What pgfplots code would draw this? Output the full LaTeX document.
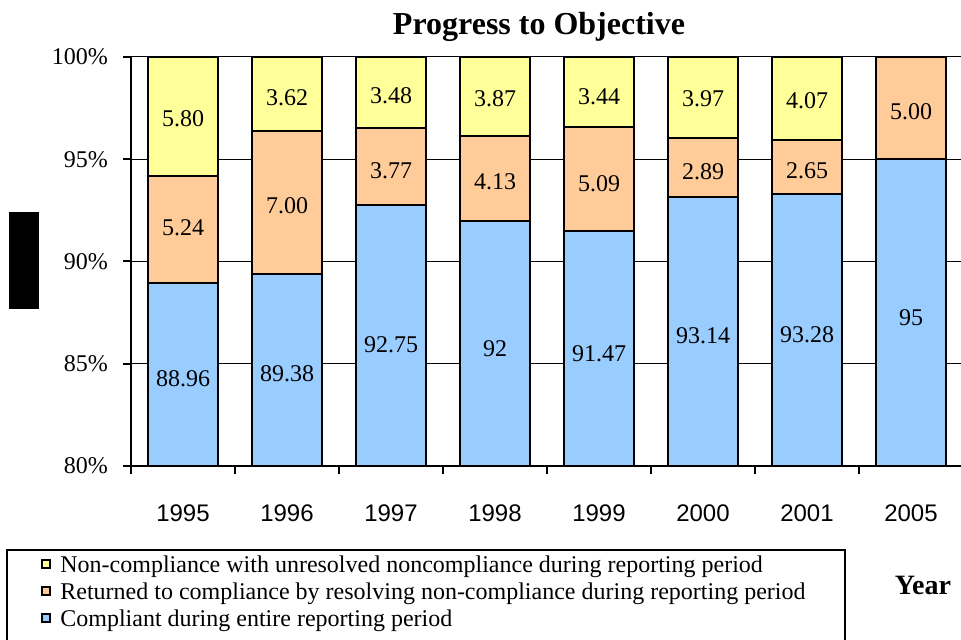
\documentclass[border=0pt]{standalone}
\usepackage{fontspec}
\setmainfont{Liberation Serif}
\newfontfamily\arialfont{Liberation Sans}
\usepackage{pgfplots}
\usepackage{pgfplotstable}
\pgfplotsset{compat=1.18}
\definecolor{cyel}{HTML}{FFFF99}
\definecolor{cora}{HTML}{FFCC99}
\definecolor{cblu}{HTML}{99CCFF}

\pgfplotstableread{
x blue orange yellow
0 88.96 5.24 5.80
1 89.38 7.00 3.62
2 92.75 3.77 3.48
3 92 4.13 3.87
4 91.47 5.09 3.44
5 93.14 2.89 3.97
6 93.28 2.65 4.07
}\data
\pgfplotstableread{
x blue orange
7 95 5.00
}\datab

\pgfplotstableread{
x y label
0 84.29 88.96
1 84.50 89.38
2 85.95 92.75
3 85.76 92
4 85.49 91.47
5 86.36 93.14
6 86.44 93.28
7 87.24 95
0 91.64 5.24
1 92.72 7.00
2 94.46 3.77
3 93.89 4.13
4 93.79 5.09
5 94.38 2.89
6 94.46 2.65
7 97.33 5.00
0 96.97 5.80
1 98.02 3.62
2 98.10 3.48
3 97.95 3.87
4 98.06 3.44
5 97.95 3.97
6 97.86 4.07
}\labels

\begin{document}
\begin{tikzpicture}[x=1pt,y=1pt]
\useasboundingbox (0,0) rectangle (480.5,320);
\begin{axis}[
  at={(65.5pt,87pt)}, anchor=south west,
  scale only axis, width=416pt, height=204.5pt,
  xmin=-0.5, xmax=7.5, ymin=80, ymax=100,
  ybar stacked, bar width=35pt,
  axis x line*=bottom, axis y line*=left,
  axis line style={line width=1pt, black},
  tick align=outside, major tick length=4pt,
  tick style={line width=1pt, black},
  ytick={80,85,90,95,100},
  yticklabels={80\%,85\%,90\%,95\%,100\%},
  yticklabel style={font=\fontsize{12}{14}\selectfont, xshift=-4pt},
  xtick={-0.5,0.5,...,7.5},
  x tick label as interval,
  xticklabels={1995,1996,1997,1998,1999,2000,2001,2005},
  xticklabel style={font=\arialfont\fontsize{12}{14}\selectfont, yshift=-12pt},
  ymajorgrids, grid style={line width=0.5pt, black},
  title={Progress to Objective},
  title style={font=\bfseries\fontsize{16}{19}\selectfont, at={(axis description cs:0.4904,1.026)}, anchor=base},
  xlabel={Year},
  xlabel style={font=\bfseries\fontsize{14}{17}\selectfont, at={(axis description cs:0.9519,-0.3154)}, anchor=base},
  ylabel={\rule{48.5pt}{15pt}},
  ylabel style={at={(axis description cs:-0.1286,0.5024)}, anchor=center, inner sep=0pt, rotate=0},
  every axis plot post/.append style={
    legend image code/.code={
      \draw[#1, draw=black, line width=1pt] (1pt,-0.6pt) rectangle (5pt,3.4pt);
      \path[draw=none, fill=none] (0pt,0pt) -- (10pt,0pt);
    }},
  reverse legend,
  legend style={draw=none, fill=none, at={(axis description cs:-0.1094,-0.21516)}, anchor=north west,
    font=\fontsize{12}{14}\selectfont, inner sep=0pt, row sep=1.5pt, column sep=0pt,
    nodes={inner sep=0pt, text height=9pt, text depth=3pt}},
  legend cell align=left,
]
\addplot[fill=cblu, draw=black, line width=1pt] table[x=x, y=blue] {\data};
\addplot[fill=cora, draw=black, line width=1pt] table[x=x, y=orange] {\data};
\addplot[fill=cyel, draw=black, line width=1pt] table[x=x, y=yellow] {\data};
\legend{Compliant during entire reporting period,
Returned to compliance by resolving non-compliance during reporting period,
Non-compliance with unresolved noncompliance during reporting period}
\end{axis}
\begin{axis}[
  at={(65.5pt,87pt)}, anchor=south west,
  scale only axis, width=416pt, height=204.5pt,
  xmin=-0.5, xmax=7.5, ymin=80, ymax=100,
  ybar stacked, bar width=35pt,
  hide axis,
]
\addplot[fill=cblu, draw=black, line width=1pt] table[x=x, y=blue] {\datab};
\addplot[fill=cora, draw=black, line width=1pt] table[x=x, y=orange] {\datab};
\end{axis}
\begin{axis}[
  at={(65.5pt,87pt)}, anchor=south west,
  scale only axis, width=416pt, height=204.5pt,
  xmin=-0.5, xmax=7.5, ymin=80, ymax=100,
  hide axis,
  every node near coord/.append style={anchor=center, font=\fontsize{12}{14}\selectfont, black, inner sep=0pt},
]
\addplot[only marks, mark=none, nodes near coords, point meta=explicit symbolic]
  table[x=x, y=y, meta=label] {\labels};
\end{axis}
\draw[line width=1pt] (3.5,-10) -- (3.5,45) -- (422.5,45) -- (422.5,-10);
\end{tikzpicture}
\end{document}
